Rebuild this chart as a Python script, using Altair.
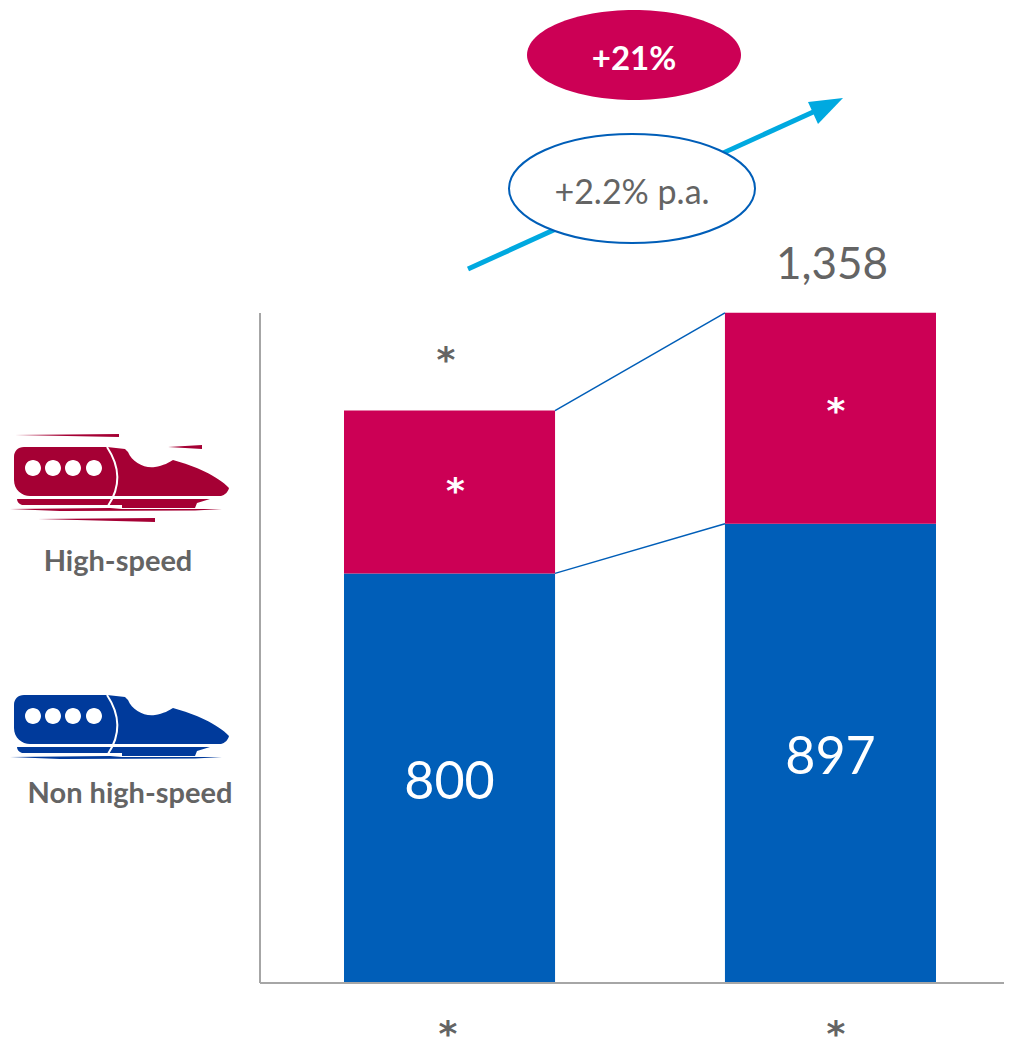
import altair as alt
import pandas as pd

categories = ["Period 1", "Period 2"]
non_high_speed = [800, 897]
high_speed = [318, 412]
total_label = "1,358"
hidden_mark = "*"
growth_total = "+21%"
growth_annual = "+2.2% p.a."
legend_labels = ["High-speed", "Non high-speed"]

BLUE = "#005EB8"
CRIMSON = "#CC0055"
GREY = "#646464"
FONT = "Lato"

bars = pd.DataFrame({
    "cat": categories * 2,
    "start": [0, 0] + non_high_speed,
    "end": non_high_speed + [a + b for a, b in zip(non_high_speed, high_speed)],
    "series": ["Non high-speed"] * 2 + ["High-speed"] * 2,
    "label": [str(v) for v in non_high_speed] + ["", ""],
})
bars["mid"] = (bars["start"] + bars["end"]) / 2

X = alt.X("cat:N", axis=None, sort=categories,
          scale=alt.Scale(type="band", range=[252, 1004], paddingInner=0.446,
                          paddingOuter=0.21, align=0.525))
YS = alt.Scale(type="linear", domain=[0, 975 / 0.512], range=[975, 0], nice=False, zero=False)


def px(v):
    return alt.value(v - 8)


def shape(path, fill=None, stroke=None, width=0):
    """A symbol whose path is written in page pixels (size 4 = scale 1)."""
    kw = {"shape": path, "size": 4, "opacity": 1, "filled": fill is not None}
    if fill is not None:
        kw["fill"] = fill
    if stroke is not None:
        kw["stroke"] = stroke
        kw["strokeWidth"] = width
    else:
        kw["strokeWidth"] = 0
    return alt.Chart(pd.DataFrame({"k": [0]})).mark_point(**kw).encode(x=px(0), y=px(0))


def label(text, x, y, size, color=GREY, weight="normal"):
    return alt.Chart(pd.DataFrame({"t": [text]})).mark_text(
        font=FONT, fontSize=size, color=color, fontWeight=weight,
        align="center", baseline="middle"
    ).encode(x=px(x), y=px(y), text="t:N")


def star(x, cy, color=GREY):
    return alt.Chart(pd.DataFrame({"t": [hidden_mark]})).mark_text(
        font="DejaVu Sans", fontSize=36, color=color, fontWeight="bold",
        align="center", baseline="alphabetic"
    ).encode(x=px(x), y=px(cy + 18), text="t:N")


def rule(x, y, x2, y2, color, width):
    return alt.Chart(pd.DataFrame({"k": [0]})).mark_rule(color=color, strokeWidth=width).encode(
        x=px(x), y=px(y), x2=px(x2), y2=px(y2))


def ellipse(cx, cy, rx, ry):
    return (f"M{cx-rx},{cy}C{cx-rx},{cy-0.552*ry} {cx-0.552*rx},{cy-ry} {cx},{cy-ry}"
            f"C{cx+0.552*rx},{cy-ry} {cx+rx},{cy-0.552*ry} {cx+rx},{cy}"
            f"C{cx+rx},{cy+0.552*ry} {cx+0.552*rx},{cy+ry} {cx},{cy+ry}"
            f"C{cx-0.552*rx},{cy+ry} {cx-rx},{cy+0.552*ry} {cx-rx},{cy}Z")


def train(dy, color, streaks):
    def P(s):
        out = []
        for tok in s.split():
            c = tok[0] if tok[0].isalpha() else ""
            body = tok[1:] if c else tok
            if body:
                a, b = body.split(",")
                out.append(f"{c}{a},{float(b)+dy}")
            else:
                out.append(c)
        return " ".join(out)

    body = P("M24,447 L107,447 L125,449 L128,452 C132,462 145,469 155,467 "
             "C163,466 170,462 173,460 "
             "C195,466 218,476 229,488 C228,492 225,495 221,496 L30,496 "
             "C22,496 14,490 14,480 L14,457 C14,451 18,447 24,447 Z")
    lower = P("M17,499 L210,499 L197,503 L195,508 L122,508 L122,505 L109,505 L22,505 C19,504 17,502 17,499 Z")
    rail = P("M10,509 L110,508 L122,509 L195,509 L222,509 L195,510.5 L60,511 Z")
    windows = "".join(ellipse(cx, 468 + dy, 8, 8) for cx in (33, 53, 73, 94))
    seam = P("M107,447 C119,465 122,485 108,506")
    layers = [shape(body, fill=color), shape(lower, fill=color), shape(rail, fill=color),
              shape(windows, fill="white"), shape(seam, stroke="white", width=2)]
    if streaks:
        for s in ("M15,435 L119,434 L119,437 Z", "M168,447 L202,445 L202,449 Z", "M38,519 L155,518 L155,522 Z"):
            layers.append(shape(P(s), fill=color))
    return layers


base = alt.Chart(bars)
bar_layer = base.mark_bar(strokeWidth=0).encode(
    x=X,
    y=alt.Y("start:Q", scale=YS, axis=None),
    y2="end:Q",
    color=alt.Color("series:N", legend=None,
                    scale=alt.Scale(domain=["Non high-speed", "High-speed"], range=[BLUE, CRIMSON])),
)
value_layer = base.transform_filter("datum.label != ''").mark_text(
    font=FONT, fontSize=52, color="white", align="center", baseline="middle", dy=5
).encode(x=X, y=alt.Y("mid:Q", scale=YS, axis=None), text="label:N")

connectors = pd.DataFrame({
    "a": [non_high_speed[0], non_high_speed[0] + high_speed[0]],
    "b": [non_high_speed[1], non_high_speed[1] + high_speed[1]],
})
connector_layer = alt.Chart(connectors).mark_rule(color=BLUE, strokeWidth=1.5).encode(
    x=px(555), x2=px(725),
    y=alt.Y("a:Q", scale=YS, axis=None), y2="b:Q")

layers = [
    rule(260, 313, 260, 983, "#A6A6A6", 2),
    bar_layer,
    rule(260, 983, 1012, 983, "#A6A6A6", 2),
    connector_layer,
    value_layer,
    label(total_label, 832, 266, 44),
    star(446, 354),
    star(455.5, 485, color="white"),
    star(836, 405, color="white"),
    star(448, 1028),
    star(836, 1028),
    shape(ellipse(634, 55, 107, 45), fill=CRIMSON),
    label(growth_total, 634, 60, 33, color="white", weight="bold"),
    rule(468, 269, 822, 108, "#00A9E0", 5),
    shape("M843,98 L808,102 L818,124 Z", fill="#00A9E0"),
    shape(ellipse(632, 188.5, 123, 54.5), fill="white", stroke=BLUE, width=2),
    label(growth_annual, 632, 194, 34),
    *train(0, "#A50034", True),
    *train(248, "#003A9B", False),
    label(legend_labels[0], 118, 562, 29, weight="bold"),
    label(legend_labels[1], 130, 794, 29, weight="bold"),
]

chart = alt.layer(*layers).properties(
    width=996, height=1050, padding=0, background="white",
    autosize=alt.AutoSizeParams(type="none"),
).configure_view(stroke=None)

chart.save("out.html", embed_options={"renderer": "svg", "actions": False})
